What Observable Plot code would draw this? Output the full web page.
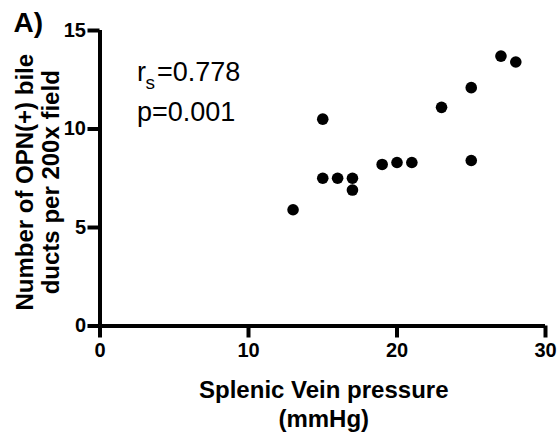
<!DOCTYPE html>
<html><head><meta charset="utf-8">
<script src="https://cdn.jsdelivr.net/npm/d3@7"></script>
<script src="https://cdn.jsdelivr.net/npm/@observablehq/plot@0.6"></script>
<style>html,body{margin:0;padding:0;background:#fff}</style>
</head><body><div id="chart"></div>
<script>
const pressure = [13, 15, 15, 16, 17, 17, 19, 20, 21, 23, 25, 25, 27, 28];
const opnDucts = [5.9, 10.5, 7.5, 7.5, 7.5, 6.9, 8.2, 8.3, 8.3, 11.1, 12.1, 8.4, 13.7, 13.4];
const xTicks = [0, 10, 20, 30];
const yTicks = [0, 5, 10, 15];
const xTitle = ["Splenic Vein pressure", "(mmHg)"];
const yTitle = ["Number of OPN(+) bile", "ducts per 200x field"];
const panelLabel = "A)";
const rsParts = ["r", "s", "=0.778"];
const pText = "p=0.001";

const data = pressure.map((x, i) => ({x, y: opnDucts[i]}));
const font = "'Liberation Sans', Arial, Helvetica, sans-serif";

const chart = Plot.plot({
  width: 560,
  height: 434,
  marginTop: 30,
  marginRight: 15,
  marginBottom: 108.5,
  marginLeft: 99.5,
  x: {domain: [0, 30]},
  y: {domain: [0, 15]},
  style: {fontFamily: font, color: "#000", background: "#fff", overflow: "visible"},
  marks: [
    Plot.ruleY([0], {stroke: "#000", strokeWidth: 4}),
    Plot.ruleX([0], {stroke: "#000", strokeWidth: 4}),
    Plot.axisX(xTicks, {tickSize: 12, tickPadding: 5, stroke: "#000", strokeWidth: 4, fill: "#000", fontSize: 20, fontWeight: "bold", label: null, tickFormat: d => String(d)}),
    Plot.axisY(yTicks, {tickSize: 12, tickPadding: 2, stroke: "#000", strokeWidth: 4, fill: "#000", fontSize: 20, fontWeight: "bold", label: null, tickFormat: d => String(d)}),
    Plot.dot(data, {x: "x", y: "y", r: 5.8, fill: "#000", stroke: null}),
    Plot.text([panelLabel], {text: d => d, fill: "#000", frameAnchor: "top-left", textAnchor: "start", lineAnchor: "bottom", dx: -86.5, dy: 1.7, fontSize: 28, fontWeight: "bold"}),
    Plot.text([yTitle[0]], {text: d => d, fill: "#000", frameAnchor: "left", rotate: -90, textAnchor: "middle", lineAnchor: "bottom", dx: -67.2, dy: 4, fontSize: 24, fontWeight: "bold"}),
    Plot.text([yTitle[1]], {text: d => d, fill: "#000", frameAnchor: "left", rotate: -90, textAnchor: "middle", lineAnchor: "bottom", dx: -41.5, dy: 4, fontSize: 24, fontWeight: "bold"}),
    Plot.text([xTitle[0]], {text: d => d, fill: "#000", frameAnchor: "bottom", textAnchor: "middle", lineAnchor: "bottom", dx: 1, dy: 71.5, fontSize: 24, fontWeight: "bold"}),
    Plot.text([xTitle[1]], {text: d => d, fill: "#000", frameAnchor: "bottom", textAnchor: "middle", lineAnchor: "bottom", dx: 1, dy: 100.5, fontSize: 24, fontWeight: "bold"}),
    Plot.text([rsParts[0]], {text: d => d, fill: "#000", frameAnchor: "top-left", textAnchor: "start", lineAnchor: "bottom", dx: 37, dy: 50.7, fontSize: 27}),
    Plot.text([rsParts[1]], {text: d => d, fill: "#000", frameAnchor: "top-left", textAnchor: "start", lineAnchor: "bottom", dx: 45.5, dy: 58, fontSize: 19}),
    Plot.text([rsParts[2]], {text: d => d, fill: "#000", frameAnchor: "top-left", textAnchor: "start", lineAnchor: "bottom", dx: 57, dy: 50.7, fontSize: 27}),
    Plot.text([pText], {text: d => d, fill: "#000", frameAnchor: "top-left", textAnchor: "start", lineAnchor: "bottom", dx: 37, dy: 90, fontSize: 27})
  ]
});
document.getElementById("chart").appendChild(chart);
</script>
</body></html>
